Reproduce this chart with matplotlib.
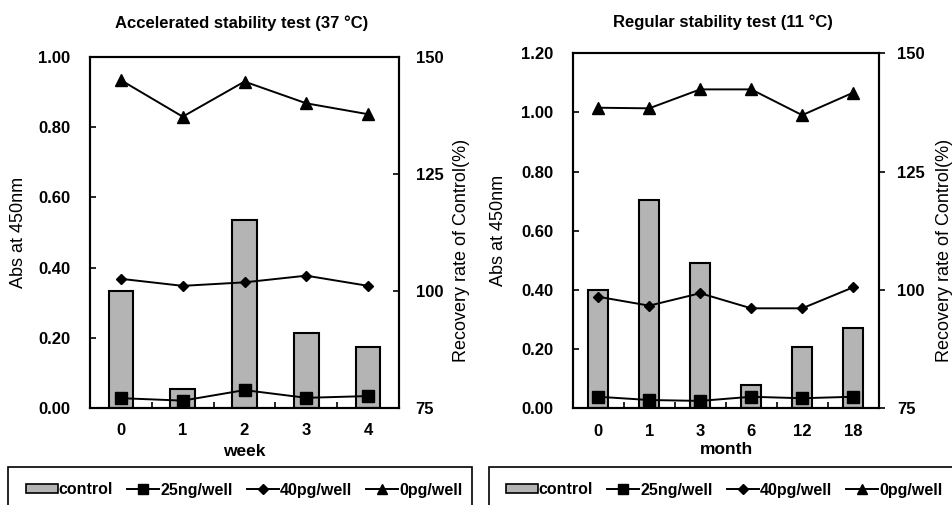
import matplotlib
matplotlib.use("Agg")
import matplotlib.pyplot as plt
from matplotlib.patches import Rectangle
from matplotlib.lines import Line2D
import numpy as np

plt.rcParams['font.family'] = ['Liberation Sans', 'DejaVu Sans']

# ---- data ----
weeks = ['0', '1', '2', '3', '4']
acc_control = [100.1, 79.0, 115.1, 91.1, 88.1]          # recovery rate of control (%)
acc_25ng = [0.028, 0.021, 0.051, 0.029, 0.034]          # Abs at 450nm
acc_40pg = [0.368, 0.348, 0.358, 0.377, 0.348]
acc_0pg = [0.934, 0.830, 0.930, 0.868, 0.837]

months = ['0', '1', '3', '6', '12', '18']
reg_control = [100.0, 119.0, 105.8, 79.9, 87.9, 92.0]
reg_25ng = [0.039, 0.028, 0.025, 0.039, 0.034, 0.039]
reg_40pg = [0.377, 0.347, 0.389, 0.338, 0.338, 0.409]
reg_0pg = [1.016, 1.014, 1.078, 1.078, 0.991, 1.067]

acc_yticks = [0.0, 0.2, 0.4, 0.6, 0.8, 1.0]
reg_yticks = [0.0, 0.2, 0.4, 0.6, 0.8, 1.0, 1.2]
rec_ticks = [75, 100, 125, 150]

BAR_COLOR = '#b4b4b4'
TFS = 12

W, H = 952, 505
fig = plt.figure(figsize=(W / 100, H / 100), dpi=100)


def panel(rect, cats, control, s25, s40, s0, yticks, xlabel, rtick_dir,
          ylab_x, rlab_x, rlab_y, xlab_xy):
    ax = fig.add_axes(rect)
    ax2 = ax.twinx()
    x = np.arange(len(cats))
    ax2.bar(x, np.array(control) - 75, bottom=75, width=0.4, color=BAR_COLOR,
            edgecolor='black', linewidth=1.5)
    ax2.set_ylim(75, 150)
    ax2.set_yticks(rec_ticks)
    ax2.tick_params(axis='y', direction=rtick_dir, length=4, width=1.2,
                    labelsize=TFS, pad=12 if rtick_dir == 'in' else 9)
    for lab in ax2.get_yticklabels():
        lab.set_fontweight('bold')
    ax2.set_ylabel('Recovery rate of Control(%)', fontsize=13)
    ax2.yaxis.set_label_coords(rlab_x, rlab_y)

    ax.set_zorder(ax2.get_zorder() + 1)
    ax.patch.set_visible(False)
    ax.plot(x, s25, color='black', lw=1.4, marker='s', ms=8)
    ax.plot(x, s40, color='black', lw=1.4, marker='D', ms=5.5)
    ax.plot(x, s0, color='black', lw=1.4, marker='^', ms=9)
    ax.set_ylim(yticks[0], yticks[-1])
    ax.set_yticks(yticks)
    ax.set_yticklabels(['%.2f' % v for v in yticks], fontweight='bold', fontsize=TFS)
    ax.set_xlim(-0.5, len(cats) - 0.5)
    ax.set_xticks(x)
    ax.set_xticklabels(cats, fontweight='bold', fontsize=TFS)
    ax.set_xticks(np.arange(len(cats) - 1) + 0.5, minor=True)
    ax.tick_params(axis='x', which='major', length=0, pad=11)
    ax.tick_params(axis='x', which='minor', direction='in', length=4, width=1.2)
    ax.tick_params(axis='y', direction='in', length=4, width=1.2, pad=14)
    ax.set_ylabel('Abs at 450nm', fontsize=13)
    ax.yaxis.set_label_coords(ylab_x, 0.5)
    ax.set_xlabel(xlabel, fontsize=12.5, fontweight='bold')
    ax.xaxis.set_label_coords(*xlab_xy)
    for a in (ax, ax2):
        for sp in a.spines.values():
            sp.set_linewidth(1.5)
    return ax, ax2


panel([90 / W, 1 - 408 / H, 309 / W, 351 / H], weeks, acc_control, acc_25ng, acc_40pg, acc_0pg,
      acc_yticks, 'week', 'in', -0.204, 1.175, 0.45, (0.498, -0.1026))
panel([572.7 / W, 1 - 408.3 / H, 306 / W, 355 / H], months, reg_control, reg_25ng, reg_40pg,
      reg_0pg, reg_yticks, 'month', 'out', -0.215, 1.187, 0.446, (0.504, -0.095))

fig.text(241.7 / W, 1 - 23 / H, 'Accelerated stability test (37 \u00b0C)', fontsize=12,
         fontweight='bold', ha='center', va='center')
fig.text(723 / W, 1 - 22 / H, 'Regular stability test (11 \u00b0C)', fontsize=12,
         fontweight='bold', ha='center', va='center')

# legends with boxes
handles = [Rectangle((0, 0), 1, 1, facecolor=BAR_COLOR, edgecolor='black', linewidth=1.2),
           Line2D([], [], color='black', lw=1.4, marker='s', ms=7),
           Line2D([], [], color='black', lw=1.4, marker='D', ms=5),
           Line2D([], [], color='black', lw=1.4, marker='^', ms=7)]
labels = ['control', '25ng/well', '40pg/well', '0pg/well']

for (x0, x1, cx) in [(8 / W, 472 / W, 244 / W), (489 / W, 1.05, 724 / W)]:
    r = Rectangle((x0, -0.05), x1 - x0, 0.05 + (1 - 467 / H), transform=fig.transFigure,
                  facecolor='none', edgecolor='black', linewidth=1.2, clip_on=False)
    fig.patches.append(r)
    fig.legend(handles, labels, loc='center', bbox_to_anchor=(cx, 1 - 490 / H), ncol=4,
               frameon=False, prop={'weight': 'bold', 'size': 11.5}, handlelength=2.0,
               handletextpad=0.05, columnspacing=0.9, handleheight=0.5)

fig.savefig('out.png', dpi=100)
